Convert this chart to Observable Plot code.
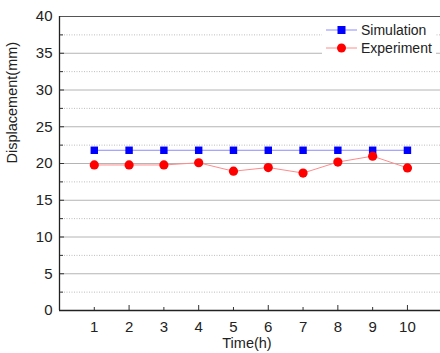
<!DOCTYPE html>
<html>
<head>
<meta charset="utf-8">
<script src="https://cdn.jsdelivr.net/npm/d3@7"></script>
<script src="https://cdn.jsdelivr.net/npm/@observablehq/plot@0.6"></script>
<style>
  html, body { margin: 0; padding: 0; background: #fff; }
  #wrap { position: relative; width: 440px; height: 353px; overflow: hidden; font-family: "Liberation Sans", Arial, sans-serif; }
  #legend { position: absolute; left: 322px; top: 20px; width: 114px; height: 38px; background: #fff; }
  #legend svg { display: block; }
</style>
</head>
<body>
<div id="wrap"></div>
<script>
const time = [1, 2, 3, 4, 5, 6, 7, 8, 9, 10];
const simulation = [21.8, 21.8, 21.8, 21.8, 21.8, 21.8, 21.8, 21.8, 21.8, 21.8];
const experiment = [19.8, 19.8, 19.8, 20.1, 18.95, 19.45, 18.7, 20.2, 21.0, 19.4];
const yMajor = [5, 10, 15, 20, 25, 30, 35];
const yMinor = [2.5, 7.5, 12.5, 17.5, 22.5, 27.5, 32.5, 37.5];
const yLabels = [0, 5, 10, 15, 20, 25, 30, 35, 40];
const xLabels = [1, 2, 3, 4, 5, 6, 7, 8, 9, 10];
const xMajorTicks = [2, 4, 6, 8, 10];
const xMinorTicks = [1, 3, 5, 7, 9];
const seriesNames = ["Simulation", "Experiment"];

const simData = time.map((t, i) => ({t, v: simulation[i]}));
const expData = time.map((t, i) => ({t, v: experiment[i]}));

const font = "Liberation Sans, Arial, sans-serif";

const chart = Plot.plot({
  width: 440,
  height: 353,
  marginLeft: 59,
  marginRight: 0,
  marginTop: 16,
  marginBottom: 43,
  style: {fontFamily: font, background: "#fff", overflow: "visible"},
  x: {domain: [0, 10.95]},
  y: {domain: [0, 40]},
  marks: [
    Plot.ruleY(yMinor, {stroke: "#bdbdbd", strokeDasharray: "1,1.5"}),
    Plot.ruleY(yMajor, {stroke: "#b4b4b4", strokeWidth: 1}),
    Plot.ruleY([40], {stroke: "#555"}),
    Plot.axisY(yLabels, {anchor: "left", tickSize: 0, tickPadding: 7, fontSize: 15, fill: "#222", label: null}),
    Plot.axisY(yMinor, {anchor: "left", tickSize: -4, text: null, label: null, stroke: "#333"}),
    Plot.axisY(yMajor, {anchor: "left", tickSize: -5, text: null, label: null, stroke: "#333"}),
    Plot.axisX(xLabels, {anchor: "bottom", tickSize: 0, tickPadding: 11, fontSize: 15, fill: "#222", label: null}),
    Plot.axisX(xMajorTicks, {anchor: "bottom", tickSize: -5, text: null, label: null, stroke: "#333"}),
    Plot.axisX(xMinorTicks, {anchor: "bottom", tickSize: -3, text: null, label: null, stroke: "#333"}),
    Plot.ruleY([0], {stroke: "#222", strokeWidth: 1.3}),
    Plot.ruleX([0], {stroke: "#222", strokeWidth: 1.3}),
    Plot.text(["Displacement(mm)"], {frameAnchor: "left", rotate: -90, dx: -47, fontSize: 14.5, fill: "#222", fontFamily: font}),
    Plot.text(["Time(h)"], {frameAnchor: "bottom", dy: 37.5, dx: -3, fontSize: 14.5, fill: "#222", fontFamily: font}),
    Plot.line(simData, {x: "t", y: "v", stroke: "#8c8cff", strokeWidth: 1}),
    Plot.dot(simData, {x: "t", y: "v", symbol: "square", r: 4.2, fill: "#0000ff", stroke: "none"}),
    Plot.line(expData, {x: "t", y: "v", stroke: "#ff8c8c", strokeWidth: 1}),
    Plot.dot(expData, {x: "t", y: "v", symbol: "circle", r: 4.6, fill: "#ff0000", stroke: "none"})
  ]
});

const wrap = document.getElementById("wrap");
wrap.appendChild(chart);

const legend = document.createElement("div");
legend.id = "legend";
const ns = "http://www.w3.org/2000/svg";
const lsvg = document.createElementNS(ns, "svg");
lsvg.setAttribute("width", 114);
lsvg.setAttribute("height", 38);
const items = [
  {name: seriesNames[0], line: "#8c8cff", fill: "#0000ff", shape: "square"},
  {name: seriesNames[1], line: "#ff8c8c", fill: "#ff0000", shape: "circle"}
];
items.forEach((it, i) => {
  const cy = 10 + i * 18;
  const ln = document.createElementNS(ns, "line");
  ln.setAttribute("x1", 4); ln.setAttribute("x2", 35);
  ln.setAttribute("y1", cy); ln.setAttribute("y2", cy);
  ln.setAttribute("stroke", it.line);
  lsvg.appendChild(ln);
  if (it.shape === "square") {
    const r = document.createElementNS(ns, "rect");
    r.setAttribute("x", 19.5 - 4); r.setAttribute("y", cy - 4);
    r.setAttribute("width", 8); r.setAttribute("height", 8);
    r.setAttribute("fill", it.fill);
    lsvg.appendChild(r);
  } else {
    const c = document.createElementNS(ns, "circle");
    c.setAttribute("cx", 19.5); c.setAttribute("cy", cy); c.setAttribute("r", 4.5);
    c.setAttribute("fill", it.fill);
    lsvg.appendChild(c);
  }
  const tx = document.createElementNS(ns, "text");
  tx.setAttribute("x", 39); tx.setAttribute("y", cy + 5);
  tx.setAttribute("font-size", 14);
  tx.setAttribute("font-family", font);
  tx.setAttribute("fill", "#222");
  tx.textContent = it.name;
  lsvg.appendChild(tx);
});
legend.appendChild(lsvg);
wrap.appendChild(legend);
</script>
</body>
</html>
